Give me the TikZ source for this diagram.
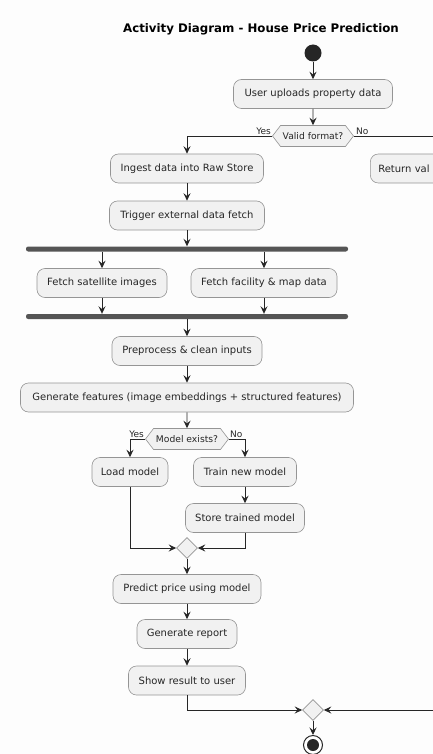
\documentclass[tikz,border=0pt]{standalone}
\usepackage{fontspec}
\setmainfont{DejaVu Sans}
\usetikzlibrary{shapes.geometric,shapes.symbols,arrows.meta,calc}
\definecolor{boxfill}{HTML}{F1F1F1}
\definecolor{boxborder}{HTML}{959595}
\definecolor{linecol}{HTML}{262626}
\definecolor{barcol}{HTML}{555555}
\definecolor{bgcol}{HTML}{FDFDFD}
\begin{document}
\begin{tikzpicture}[x=1pt,y=-1pt,
  box/.style={draw=boxborder, fill=boxfill, rounded corners=8pt, minimum height=29pt, inner xsep=8pt, inner ysep=2pt, font=\fontsize{10}{12}\selectfont, text=linecol, line width=0.6pt},
  hex/.style={signal, signal to=west and east, signal pointer angle=105, draw=boxborder, fill=boxfill, minimum height=21pt, inner xsep=1pt, inner ysep=1pt, font=\fontsize{9.2}{11}\selectfont, text=linecol, line width=0.6pt},
  flow/.style={draw=linecol, line width=0.9pt, -{Stealth[length=7.5pt,width=7pt,inset=2.8pt]}},
  bar/.style={fill=barcol, rounded corners=2.2pt, minimum width=322pt, minimum height=5pt, inner sep=0pt},
  merge/.style={diamond, draw=boxborder, fill=boxfill, minimum width=21pt, minimum height=21pt, inner sep=0pt, line width=0.6pt},
  lbl/.style={font=\fontsize{9}{10}\selectfont, inner sep=1pt, text=linecol},
  titlestyle/.style={font=\fontsize{11.8}{14}\selectfont\bfseries, text=black}
]
\useasboundingbox (0,0) rectangle (433,754);
\clip (0,0) rectangle (433,754);
\fill[bgcol] (0,0) rectangle (433,754);

\node[titlestyle] (title) at (261,29) {Activity Diagram - House Price Prediction};

\node[circle, fill=linecol, minimum size=17pt, inner sep=0pt] (start) at (313,53) {};
\node[box, minimum width=159pt] (user) at (313,94) {User uploads property data};
\node[hex, minimum width=81pt] (valid) at (313,136) {Valid format?};
\node[box, minimum width=153pt] (ingest) at (187,168.5) {Ingest data into Raw Store};
\node[box, anchor=west, text width=130pt, align=left] (ret) at (370,168.5) {Return val};
\node[box, minimum width=155pt] (trigger) at (187,215.5) {Trigger external data fetch};
\node[bar] (fork1) at (187,249) {};
\node[box, minimum width=130pt] (sat) at (102,283) {Fetch satellite images};
\node[box, minimum width=146pt] (fac) at (264,283) {Fetch facility \& map data};
\node[bar] (fork2) at (187,316.5) {};
\node[box, minimum width=150pt] (prep) at (187,351) {Preprocess \& clean inputs};
\node[box, minimum width=333pt] (gen) at (187,397.5) {Generate features (image embeddings + structured features)};
\node[hex, minimum width=83pt] (model) at (187,439) {Model exists?};
\node[box, minimum width=76pt] (load) at (130,472) {Load model};
\node[box, minimum width=103pt] (train) at (245,472) {Train new model};
\node[box, minimum width=119pt] (store) at (245,518) {Store trained model};
\node[merge] (m1) at (187,548) {};
\node[box, minimum width=148pt] (predict) at (187,589) {Predict price using model};
\node[box, minimum width=100pt] (report) at (187,634) {Generate report};
\node[box, minimum width=117pt] (show) at (187,680.5) {Show result to user};
\node[merge] (m2) at (313,710) {};
\node[circle, draw=linecol, line width=1pt, fill=white, minimum size=19pt, inner sep=0pt] (end) at (313,745) {};
\fill[linecol] (end.center) circle (6pt);

% connectors
\draw[flow] (start) -- (user);
\draw[flow] (user) -- (valid);
\draw[flow] (valid.west) -| (ingest.north);
\node[lbl, anchor=south east] (yes1) at ($(valid.west)+(0,-0.5)$) {Yes};
\draw[flow] (valid.east) -| (ret.north);
\node[lbl, anchor=south west] (no1) at ($(valid.east)+(1,-0.5)$) {No};
\draw[flow] (ingest) -- (trigger);
\draw[flow] (trigger) -- (fork1);
\draw[flow] (sat.north |- fork1.south) -- (sat.north);
\draw[flow] (fac.north |- fork1.south) -- (fac.north);
\draw[flow] (sat.south) -- (sat.south |- fork2.north);
\draw[flow] (fac.south) -- (fac.south |- fork2.north);
\draw[flow] (fork2) -- (prep);
\draw[flow] (prep) -- (gen);
\draw[flow] (gen) -- (model);
\draw[flow] (model.west) -| (load.north);
\node[lbl, anchor=south east] (yes2) at ($(model.west)+(0,-0.5)$) {Yes};
\draw[flow] (model.east) -| (train.north);
\node[lbl, anchor=south west] (no2) at ($(model.east)+(0,-0.5)$) {No};
\draw[flow] (train) -- (store);
\draw[flow] (load.south) |- (m1.west);
\draw[flow] (store.south) |- (m1.east);
\draw[flow] (m1) -- (predict);
\draw[flow] (predict) -- (report);
\draw[flow] (report) -- (show);
\draw[flow] (show.south) |- (m2.west);
\draw[flow] (ret.south) |- (m2.east);
\draw[flow] (m2) -- (end);
\end{tikzpicture}
\end{document}
